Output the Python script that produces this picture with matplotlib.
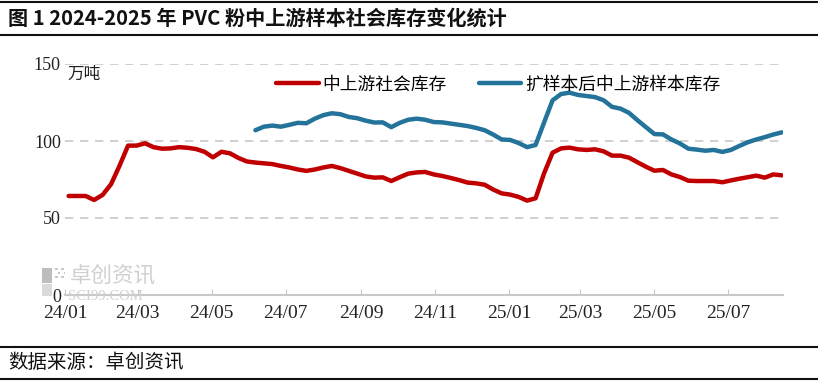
import matplotlib
matplotlib.use("Agg")
import matplotlib.pyplot as plt
import matplotlib.dates as mdates
from matplotlib.lines import Line2D
from matplotlib.patches import Rectangle
import numpy as np
import pandas as pd

plt.rcParams['font.family'] = ['Noto Sans CJK SC', 'DejaVu Sans']

# 周度数据，2024-01-04 起
dates = pd.date_range('2024-01-04', periods=85, freq='7D')

social_stock = [
    64.3, 64.3, 64.3, 61.7, 65.0, 72.0, 84.0, 97.0, 97.0, 98.5,
    96.0, 95.0, 95.2, 96.0, 95.6, 94.8, 93.0, 89.4, 93.0, 92.0,
    89.0, 86.7, 86.0, 85.5, 85.0, 83.8, 82.8, 81.5, 80.6, 81.5,
    82.8, 83.8, 82.4, 80.6, 78.8, 77.0, 76.2, 76.4, 74.0, 76.5,
    78.8, 79.6, 79.9, 78.3, 77.3, 76.0, 74.6, 73.0, 72.5, 71.6,
    68.5, 66.0, 65.2, 63.7, 61.3, 62.8, 79.0, 92.4, 95.2, 95.7,
    94.6, 94.2, 94.6, 93.3, 90.5, 90.5, 89.2, 86.2, 83.3, 80.7,
    81.2, 78.3, 76.6, 74.2, 74.0, 74.0, 74.0, 73.2, 74.4, 75.5,
    76.5, 77.5, 76.2, 78.3, 77.7,
]

nan = np.nan
sample_stock = [nan] * 22 + [
    107.0, 109.3, 110.0, 109.3, 110.5, 111.8, 111.5, 114.5,
    116.8, 118.0, 117.4, 115.6, 114.8, 113.2, 112.0, 112.1, 109.0, 111.8,
    113.8, 114.5, 113.8, 112.3, 112.1, 111.3, 110.5, 109.7, 108.5, 107.0,
    104.2, 101.0, 100.7, 98.7, 96.0, 97.4, 112.0, 126.4, 130.5, 131.4,
    129.9, 129.2, 128.5, 126.5, 122.2, 121.0, 118.3, 113.5, 109.0, 104.5,
    104.3, 101.0, 98.4, 95.0, 94.4, 93.7, 94.2, 92.9, 94.2, 96.8,
    99.2, 101.0, 102.5, 104.2, 105.6,
]

label_social = '中上游社会库存'
label_sample = '扩样本后中上游样本库存'
red = '#C00000'
blue = '#23739B'

W, H = 818, 381
fig = plt.figure(figsize=(W / 100, H / 100), dpi=100)
ax = fig.add_axes([65 / W, 1 - 295 / H, (783 - 65) / W, (295 - 64) / H])

ax.plot(dates, social_stock, color=red, lw=3.2, solid_capstyle='round', label=label_social, zorder=3)
ax.plot(dates, sample_stock, color=blue, lw=3.2, solid_capstyle='round', label=label_sample, zorder=3)

ax.set_xlim(pd.Timestamp('2024-01-01'), pd.Timestamp('2025-08-15'))
ax.set_ylim(0, 150)
ax.set_yticks([0, 50, 100, 150])
ax.xaxis.set_major_locator(mdates.MonthLocator(bymonth=[1, 3, 5, 7, 9, 11]))
ax.xaxis.set_major_formatter(mdates.DateFormatter('%y/%m'))

for v in [50, 100, 150]:
    ax.axhline(v, color='#C8C8C8', lw=1.2, ls=(0, (5, 4)), zorder=1)

for s in ['top', 'right', 'left']:
    ax.spines[s].set_visible(False)
ax.spines['bottom'].set_color('#C8C8C8')
ax.spines['bottom'].set_linewidth(1.5)
ax.tick_params(axis='x', direction='in', length=4, color='#C8C8C8', pad=7)
ax.tick_params(axis='y', length=0, pad=3)
for lab in ax.get_xticklabels():
    lab.set_fontfamily('Liberation Serif')
    lab.set_fontsize(14)
    lab.set_color('#222222')
for lab in ax.get_yticklabels():
    lab.set_fontfamily('Liberation Serif')
    lab.set_fontsize(13)
    lab.set_color('#222222')

ax.text(0.003, 0.99, '万吨', transform=ax.transAxes, fontsize=12, va='top', ha='left', color='#222222')

ax.legend(loc='upper left', bbox_to_anchor=(0.272, 1.02), ncol=2, frameon=False,
          fontsize=12.8, handlelength=2.4, handletextpad=0.2, columnspacing=1.8)

# 水印
fig.add_artist(Rectangle((42 / W, 1 - 283 / H), 10 / W, 15 / H, transform=fig.transFigure,
                         color='#BDBDBD', lw=0, zorder=0))
fig.add_artist(Rectangle((42 / W, 1 - 296 / H), 10 / W, 12 / H, transform=fig.transFigure,
                         color='#DADADA', lw=0, zorder=0))
for dx, dy in [(55, 270), (61, 270), (58, 274), (55, 278), (61, 278), (64, 274)]:
    fig.add_artist(Rectangle((dx / W, 1 - dy / H), 2.5 / W, 2.5 / H, transform=fig.transFigure,
                             color='#C8C8C8', lw=0, zorder=0))
fig.text(70 / W, 1 - 276 / H, '卓创资讯', fontsize=15.5, color='#D0D0D0', va='center', ha='left', zorder=0)
fig.text(68 / W, 1 - 296 / H, 'SCI99.COM', fontsize=10.5, color='#D0D0D0', va='center', ha='left',
         family='Liberation Serif', zorder=0)

# 标题与来源
fig.text(8 / W, 1 - 18 / H, '图 1 2024-2025 年 PVC 粉中上游样本社会库存变化统计',
         fontsize=14.5, weight='bold', va='center', ha='left', color='#111111')
fig.text(8 / W, 1 - 363 / H, '数据来源：卓创资讯', fontsize=14, va='center', ha='left', color='#111111')

for yy in [2, 35, 347, 379]:
    fig.add_artist(Line2D([0, 1], [1 - yy / H, 1 - yy / H], transform=fig.transFigure,
                          color='#111111', lw=1.5))

fig.savefig('out.png', dpi=100)
